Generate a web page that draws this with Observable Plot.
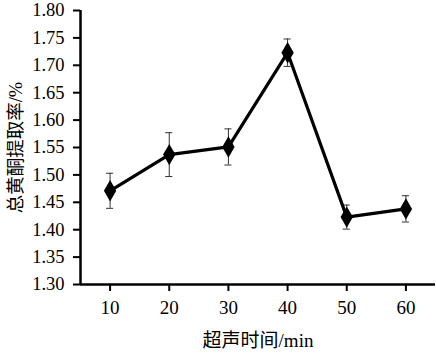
<!DOCTYPE html>
<html><head><meta charset="utf-8">
<script src="https://cdn.jsdelivr.net/npm/d3@7"></script>
<script src="https://cdn.jsdelivr.net/npm/@observablehq/plot@0.6"></script>
<style>body{margin:0;background:#fff}</style>
</head><body><div id="chart"></div>
<script>
const times = [10, 20, 30, 40, 50, 60];
const rates = [1.471, 1.537, 1.551, 1.723, 1.423, 1.438];
const errs = [0.032, 0.040, 0.033, 0.025, 0.022, 0.024];
const xTicks = [10, 20, 30, 40, 50, 60];
const yTicks = [1.30, 1.35, 1.40, 1.45, 1.50, 1.55, 1.60, 1.65, 1.70, 1.75, 1.80];
const xTitle = "超声时间/min";
const yTitle = "总黄酮提取率/%";

const data = times.map((t, i) => ({x: t, y: rates[i], lo: rates[i] - errs[i], hi: rates[i] + errs[i]}));
const font = "'Liberation Serif', 'Times New Roman', 'Noto Sans CJK SC', serif";

const chart = Plot.plot({
  width: 436, height: 353,
  marginLeft: 80, marginRight: 1, marginTop: 10, marginBottom: 69,
  style: {fontFamily: font, fontSize: "19px", color: "#000", background: "#fff"},
  x: {domain: [5, 65]},
  y: {domain: [1.30, 1.80]},
  marks: [
    Plot.axisY({ticks: yTicks, tickFormat: d3.format(".2f"), tickSize: 7, tickPadding: 9, strokeWidth: 2, fontSize: 18.5,
      label: yTitle, labelAnchor: "center", labelArrow: "none", labelOffset: 72, fontFamily: font}),
    Plot.axisX({ticks: xTicks, tickFormat: d3.format("d"), tickSize: 7, tickPadding: 9, strokeWidth: 2, fontSize: 19,
      label: xTitle, labelAnchor: "center", labelArrow: "none", labelOffset: 62, fontFamily: font}),
    Plot.ruleX([5], {strokeWidth: 2.5}),
    Plot.ruleY([1.30], {strokeWidth: 2.5}),
    Plot.ruleX(data, {x: "x", y1: "lo", y2: "hi", stroke: "#333", strokeWidth: 1}),
    Plot.ruleY(data, {y: "hi", x1: d => d.x - 0.6, x2: d => d.x + 0.6, stroke: "#333", strokeWidth: 1}),
    Plot.ruleY(data, {y: "lo", x1: d => d.x - 0.6, x2: d => d.x + 0.6, stroke: "#333", strokeWidth: 1}),
    Plot.line(data, {x: "x", y: "y", stroke: "#000", strokeWidth: 3.2}),
    Plot.dot(data, {x: "x", y: "y", symbol: "diamond", r: 6.5, fill: "#000", stroke: "none"})
  ]
});
document.getElementById("chart").appendChild(chart);
</script>
</body></html>
